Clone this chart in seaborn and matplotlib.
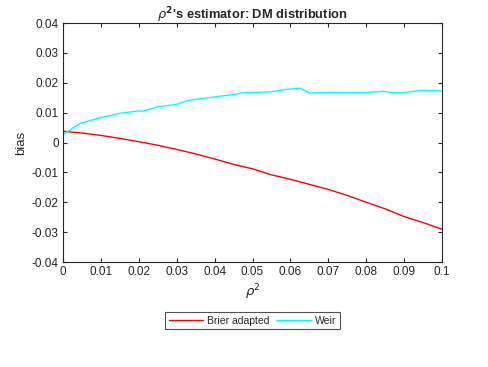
import matplotlib
matplotlib.use('Agg')
import matplotlib.pyplot as plt
import seaborn as sns
import pandas as pd
import numpy as np

# values
brier_x = [0, 0.005, 0.01, 0.015, 0.02, 0.025, 0.03, 0.035, 0.04, 0.045, 0.05,
           0.055, 0.06, 0.065, 0.07, 0.075, 0.08, 0.085, 0.09, 0.095, 0.1]
brier_y = [0.0038, 0.0032, 0.0024, 0.0014, 0.0003, -0.0009, -0.0023, -0.0038,
           -0.0055, -0.0073, -0.0088, -0.0108, -0.0123, -0.0140, -0.0157,
           -0.0177, -0.0200, -0.0222, -0.0248, -0.0268, -0.0290]

weir_x = [0, 0.0045, 0.01, 0.015, 0.02, 0.021, 0.025, 0.03, 0.0325, 0.035, 0.04,
          0.045, 0.0475, 0.05, 0.055, 0.058, 0.0625, 0.065, 0.07, 0.075, 0.08,
          0.0845, 0.0875, 0.09, 0.095, 0.1]
weir_y = [0.0027, 0.0064, 0.0084, 0.0098, 0.0106, 0.0105, 0.0120, 0.0128, 0.0139,
          0.0145, 0.0153, 0.0161, 0.0167, 0.0168, 0.0170, 0.0177, 0.0182, 0.0166,
          0.0168, 0.0167, 0.0168, 0.0172, 0.0166, 0.0168, 0.0175, 0.0173]

df = pd.concat([
    pd.DataFrame({'rho2': brier_x, 'bias': brier_y, 'method': 'Brier adapted'}),
    pd.DataFrame({'rho2': weir_x, 'bias': weir_y, 'method': 'Weir'}),
])

sns.set_style('white')
plt.rcParams['font.family'] = ['Liberation Sans', 'DejaVu Sans']
plt.rcParams['mathtext.fontset'] = 'dejavusans'

fig = plt.figure(figsize=(4.88, 3.67), dpi=100)
ax = fig.add_axes([0.129, 0.286, 0.777, 0.651])

sns.lineplot(data=df, x='rho2', y='bias', hue='method',
             palette={'Brier adapted': '#ff0000', 'Weir': '#00ffff'},
             linewidth=1, ax=ax, sort=False)

ax.set_xlim(0, 0.1)
ax.set_ylim(-0.04, 0.04)
ax.set_xticks(np.arange(0, 0.101, 0.01))
ax.set_xticklabels(['0', '0.01', '0.02', '0.03', '0.04', '0.05', '0.06',
                    '0.07', '0.08', '0.09', '0.1'])
ax.set_yticks(np.arange(-0.04, 0.041, 0.01))
ax.set_yticklabels(['-0.04', '-0.03', '-0.02', '-0.01', '0', '0.01', '0.02',
                    '0.03', '0.04'])
ax.tick_params(direction='in', length=3, width=0.8, labelsize=8.5,
               colors='#262626', top=True, right=True, bottom=True, left=True,
               pad=3)
for s in ax.spines.values():
    s.set_visible(True)
    s.set_color('#262626')
    s.set_linewidth(0.8)

ax.set_title(r"$\rho^{\mathbf{2}}$'s estimator: DM distribution",
             fontsize=9.3, fontweight='bold', pad=3)
ax.set_xlabel(r'$\rho^2$', fontsize=9.5, color='#262626', labelpad=3)
ax.set_ylabel('bias', fontsize=9.5, color='#262626', labelpad=3)

leg = ax.legend(loc='center', bbox_to_anchor=(0.5, -0.245), ncol=2,
                frameon=True, fancybox=False, fontsize=7.5, handlelength=3.3,
                handletextpad=0.4, columnspacing=0.6, borderpad=0.35,
                borderaxespad=0, title=None)
leg.get_frame().set_edgecolor('#262626')
leg.get_frame().set_linewidth(0.8)

fig.savefig('out.png', dpi=100)
